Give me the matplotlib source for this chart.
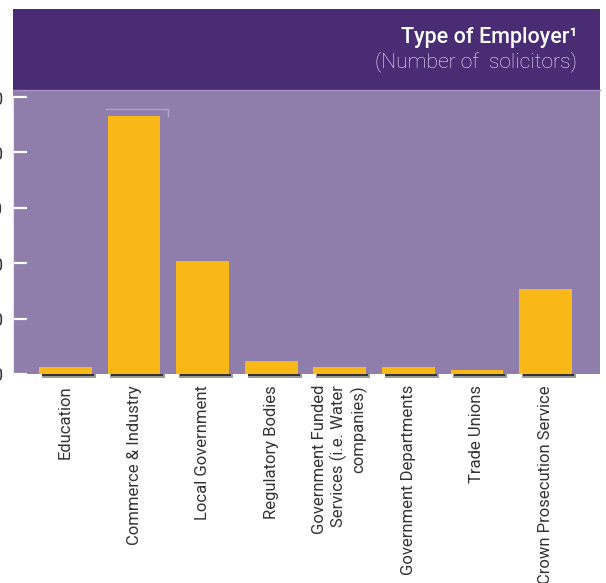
import matplotlib
matplotlib.use("Agg")
import matplotlib.pyplot as plt
from matplotlib.patches import Rectangle
from matplotlib.lines import Line2D

plt.rcParams['font.family'] = ['Roboto', 'DejaVu Sans']

categories = ['Education', 'Commerce & Industry', 'Local Government', 'Regulatory Bodies',
              'Government Funded\nServices (i.e. Water\ncompanies)', 'Government Departments',
              'Trade Unions', 'Crown Prosecution Service']
solicitors = [260, 9320, 4080, 460, 240, 260, 140, 3060]
y_ticks = [0, 2000, 4000, 6000, 8000, 10000]

W, H = 606, 583
fig = plt.figure(figsize=(W / 100, H / 100), dpi=100)
fig.patch.set_facecolor('white')

# header banner
fig.patches.append(Rectangle((13 / W, 1 - 90 / H), 587 / W, 81 / H, transform=fig.transFigure,
                             facecolor='#4a2c74', edgecolor='none', zorder=0))
fig.lines.append(Line2D([13 / W, 600 / W], [1 - 90 / H, 1 - 90 / H], transform=fig.transFigure,
                        color='#a592c2', lw=1))
fig.text(577 / W, 1 - 37 / H, 'Type of Employer¹', ha='right', va='center', color='white',
         fontsize=15.5, fontweight='medium')
fig.text(577 / W, 1 - 62 / H, '(Number of  solicitors)', ha='right', va='center', color='#efeaf6',
         fontsize=15.2, fontweight='light')

ax = fig.add_axes([13 / W, (H - 374) / H, 587 / W, 284 / H])
ax.set_facecolor('#8f7dab')
x = range(len(categories))

# soft shadows under the bars
ax.bar([i + 0.05 for i in x], [-130] * len(x), width=0.79, color='#9a9a9a', clip_on=False, zorder=1)
ax.bar([i + 0.04 for i in x], [-90] * len(x), width=0.75, color='#333333', clip_on=False, zorder=1)
ax.bar(x, solicitors, width=0.77, color='#f8b818', zorder=3)

# faint outline over the tallest bar
ax.plot([0.585, 1.49, 1.49], [9560, 9560, 9320], color='#b4a6cb', lw=1, zorder=2)

ax.set_xlim(-0.765, 7.794)
ax.set_ylim(0, 10253)
ax.set_yticks(y_ticks)
ax.set_yticklabels([f'{v:,}' for v in y_ticks])
ax.tick_params(axis='y', direction='in', length=10, width=1.6, color='white', pad=7,
               labelsize=13, labelcolor='#333333')
ax.set_xticks(list(x))
ax.set_xticklabels(categories, rotation=90, va='top', ha='center', multialignment='right',
                   fontsize=12, fontweight='normal', color='#333333')
ax.tick_params(axis='x', length=0, pad=8)
for s in ['top', 'right', 'bottom']:
    ax.spines[s].set_visible(False)
ax.spines['left'].set_color('#e8e4f0')
ax.spines['left'].set_bounds(0, 10000)

fig.savefig('out.png', dpi=100)
